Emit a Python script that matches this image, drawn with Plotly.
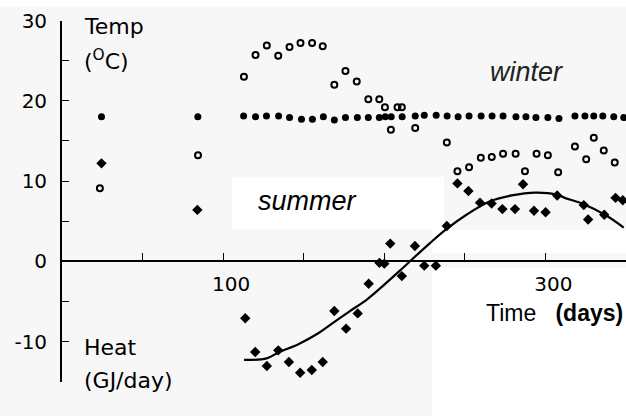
import plotly.graph_objects as go

W, H = 626, 416

# ---------------- data ----------------
indoor_days = [24.5, 84.3, 112.7, 120.1, 126.9, 134.4, 141.2, 148.6, 155.4, 162.2, 169.0,
               175.9, 183.3, 190.1, 196.9, 200.6, 204.3, 211.1, 219.2, 224.8, 232.2, 239.0,
               245.8, 252.6, 260.1, 266.9, 273.7, 281.7, 287.9, 294.1, 301.5, 308.4, 318.3,
               324.5, 330.0, 335.6, 342.4, 348.6]
indoor_temp = [18.0, 18.0, 18.1, 18.0, 18.1, 18.1, 17.9, 17.7, 17.7, 18.0, 17.6,
               17.9, 17.9, 17.9, 17.9, 18.0, 18.0, 18.0, 18.1, 18.2, 18.2, 18.1,
               18.0, 18.1, 18.1, 18.1, 18.1, 18.0, 18.0, 17.9, 17.9, 17.8, 18.1,
               18.1, 18.1, 18.1, 18.0, 17.9]

outdoor_days = [23.5, 84.4, 112.9, 120.1, 127.1, 134.2, 141.2, 148.0, 155.2, 161.8, 169.0,
                175.9, 182.9, 190.1, 196.9, 200.4, 204.1, 208.2, 210.9, 219.2, 238.8,
                245.4, 252.6, 259.9, 266.7, 273.7, 281.5, 287.3, 294.5, 301.5, 307.9,
                318.3, 325.3, 330.0, 336.2, 343.0]
outdoor_temp = [9.1, 13.2, 23.0, 25.7, 26.9, 25.6, 26.7, 27.2, 27.2, 26.8, 22.0,
                23.7, 22.4, 20.2, 20.2, 19.2, 16.4, 19.2, 19.2, 16.6, 14.8,
                11.2, 11.7, 12.9, 13.0, 13.4, 13.4, 11.2, 13.4, 13.2, 11.1,
                14.3, 12.7, 15.4, 13.8, 12.3]

heat_days = [24.5, 84.0, 113.7, 119.9, 127.1, 134.2, 140.8, 147.8, 155.0, 161.8, 169.0,
             176.3, 183.5, 190.3, 197.0, 200.0, 203.7, 210.9, 219.0, 224.8, 232.0, 238.8,
             245.4, 252.2, 259.4, 266.6, 273.3, 281.1, 286.1, 292.9, 300.1, 307.3, 323.8,
             326.5, 336.5, 343.5, 348.0]
heat_val = [12.2, 6.4, -7.1, -11.3, -13.05, -11.1, -12.55, -13.9, -13.55, -12.55, -6.2,
            -8.4, -6.5, -2.8, -0.2, -0.3, 2.2, -1.85, 1.9, -0.55, -0.55, 4.4,
            9.7, 8.75, 7.3, 7.2, 6.5, 6.5, 9.6, 6.3, 6.1, 8.2, 7.0,
            5.2, 5.8, 7.9, 7.6]

fit_days = [113, 127, 135, 147, 158, 168, 178, 189, 199, 209, 216, 228, 238.5, 251,
            266, 279, 293.9, 306.3, 312, 323.8, 337.2, 348.6]
fit_val = [-12.3, -12.1, -11.3, -10.3, -9.1, -7.7, -6.3, -4.8, -3.1, -1.3, 0.0, 2.2, 4.0, 5.8,
           7.5, 8.2, 8.55, 8.34, 7.9, 7.1, 5.76, 4.2]

x_ticks = [50, 100, 150, 200, 250, 300, 350]
x_ticktext = ["", "100", "", "", "", "300", ""]
y_ticks = [-15, -10, -5, 0, 5, 10, 15, 20, 25, 30]
y_ticktext = ["", "-10", "", "0", "", "10", "", "20", "", "30"]

# ---------------- layout helpers ----------------
def px(x):
    return x / W

def py(y):
    return 1 - y / H

GREY = "#f7f7f7"
grey_rects = [(0, 7, 626, 177), (0, 177, 232, 229), (444, 177, 626, 230),
              (0, 229, 432, 416), (432, 253, 626, 268)]
shapes = [dict(type="rect", xref="paper", yref="paper", x0=px(a), x1=px(c), y0=py(d), y1=py(b),
               fillcolor=GREY, line=dict(width=0), layer="below") for a, b, c, d in grey_rects]

fig = go.Figure()
fig.add_trace(go.Scatter(x=fit_days, y=fit_val, mode="lines",
                         line=dict(color="black", width=2.2, shape="spline", smoothing=1.0),
                         showlegend=False))
fig.add_trace(go.Scatter(x=indoor_days, y=indoor_temp, mode="markers",
                         marker=dict(symbol="circle", size=7, color="black"), showlegend=False))
fig.add_trace(go.Scatter(x=outdoor_days, y=outdoor_temp, mode="markers",
                         marker=dict(symbol="circle-open", size=6, color="black", line=dict(width=2, color="black")),
                         showlegend=False))
fig.add_trace(go.Scatter(x=heat_days, y=heat_val, mode="markers",
                         marker=dict(symbol="diamond", size=8, color="black"), showlegend=False))

y_bottom = 261.25 + 15 * 8.025
y_top = 261.25 - 30 * 8.025
axis_font = dict(family="DejaVu Sans, sans-serif", size=20, color="black")

fig.update_layout(
    template="none",
    width=W, height=H,
    margin=dict(l=0, r=0, t=0, b=0, pad=0, autoexpand=False),
    paper_bgcolor="white", plot_bgcolor="rgba(0,0,0,0)",
    shapes=shapes,
    xaxis=dict(domain=[62 / W, 1], range=[0, 350], anchor="free", position=py(261.25),
               automargin=False,
               showline=True, linecolor="black", linewidth=1.8, showgrid=False, zeroline=False,
               tickmode="array", tickvals=x_ticks, ticktext=x_ticktext, ticks="inside",
               ticklen=7, tickwidth=1.4, tickcolor="black", tickfont=axis_font,
               ticklabelstandoff=5, ticklabelshift=8),
    yaxis=dict(domain=[py(y_bottom), py(y_top)], range=[-15, 30], anchor="x",
               automargin=False,
               showline=True, linecolor="black", linewidth=1.8, showgrid=False, zeroline=False,
               tickmode="array", tickvals=y_ticks, ticktext=y_ticktext, ticks="inside",
               ticklen=7, tickwidth=1.4, tickcolor="black", tickfont=axis_font,
               ticklabelstandoff=9),
)

lab_font = dict(family="DejaVu Sans, sans-serif", size=22, color="black")
ann = [
    dict(text="Temp", x=px(82), y=py(27), xanchor="left", yanchor="middle", font=lab_font),
    dict(text="(<sup>O</sup>C)", x=px(82), y=py(60), xanchor="left", yanchor="middle", font=lab_font),
    dict(text="Heat", x=px(82), y=py(347), xanchor="left", yanchor="middle", font=lab_font),
    dict(text="(GJ/day)", x=px(82), y=py(380), xanchor="left", yanchor="middle", font=lab_font),
    dict(text="<i>summer</i>", x=px(307), y=py(201), xanchor="center", yanchor="middle",
         font=dict(family="Liberation Sans, Arial, sans-serif", size=27, color="black")),
    dict(text="<i>winter</i>", x=px(526), y=py(72), xanchor="center", yanchor="middle",
         font=dict(family="Liberation Sans, Arial, sans-serif", size=27, color="#222")),
    dict(text="Time&nbsp;&nbsp;&nbsp;<b>(days)</b>", x=px(625), y=py(313), xanchor="right", yanchor="middle",
         font=dict(family="Liberation Sans, Arial, sans-serif", size=23, color="black")),
]
for a in ann:
    a.update(xref="paper", yref="paper", showarrow=False)
fig.update_layout(annotations=ann)

fig.write_html("out.html", config={"displayModeBar": False},
               post_script="document.body.style.margin='0';document.body.style.overflow='hidden';")
